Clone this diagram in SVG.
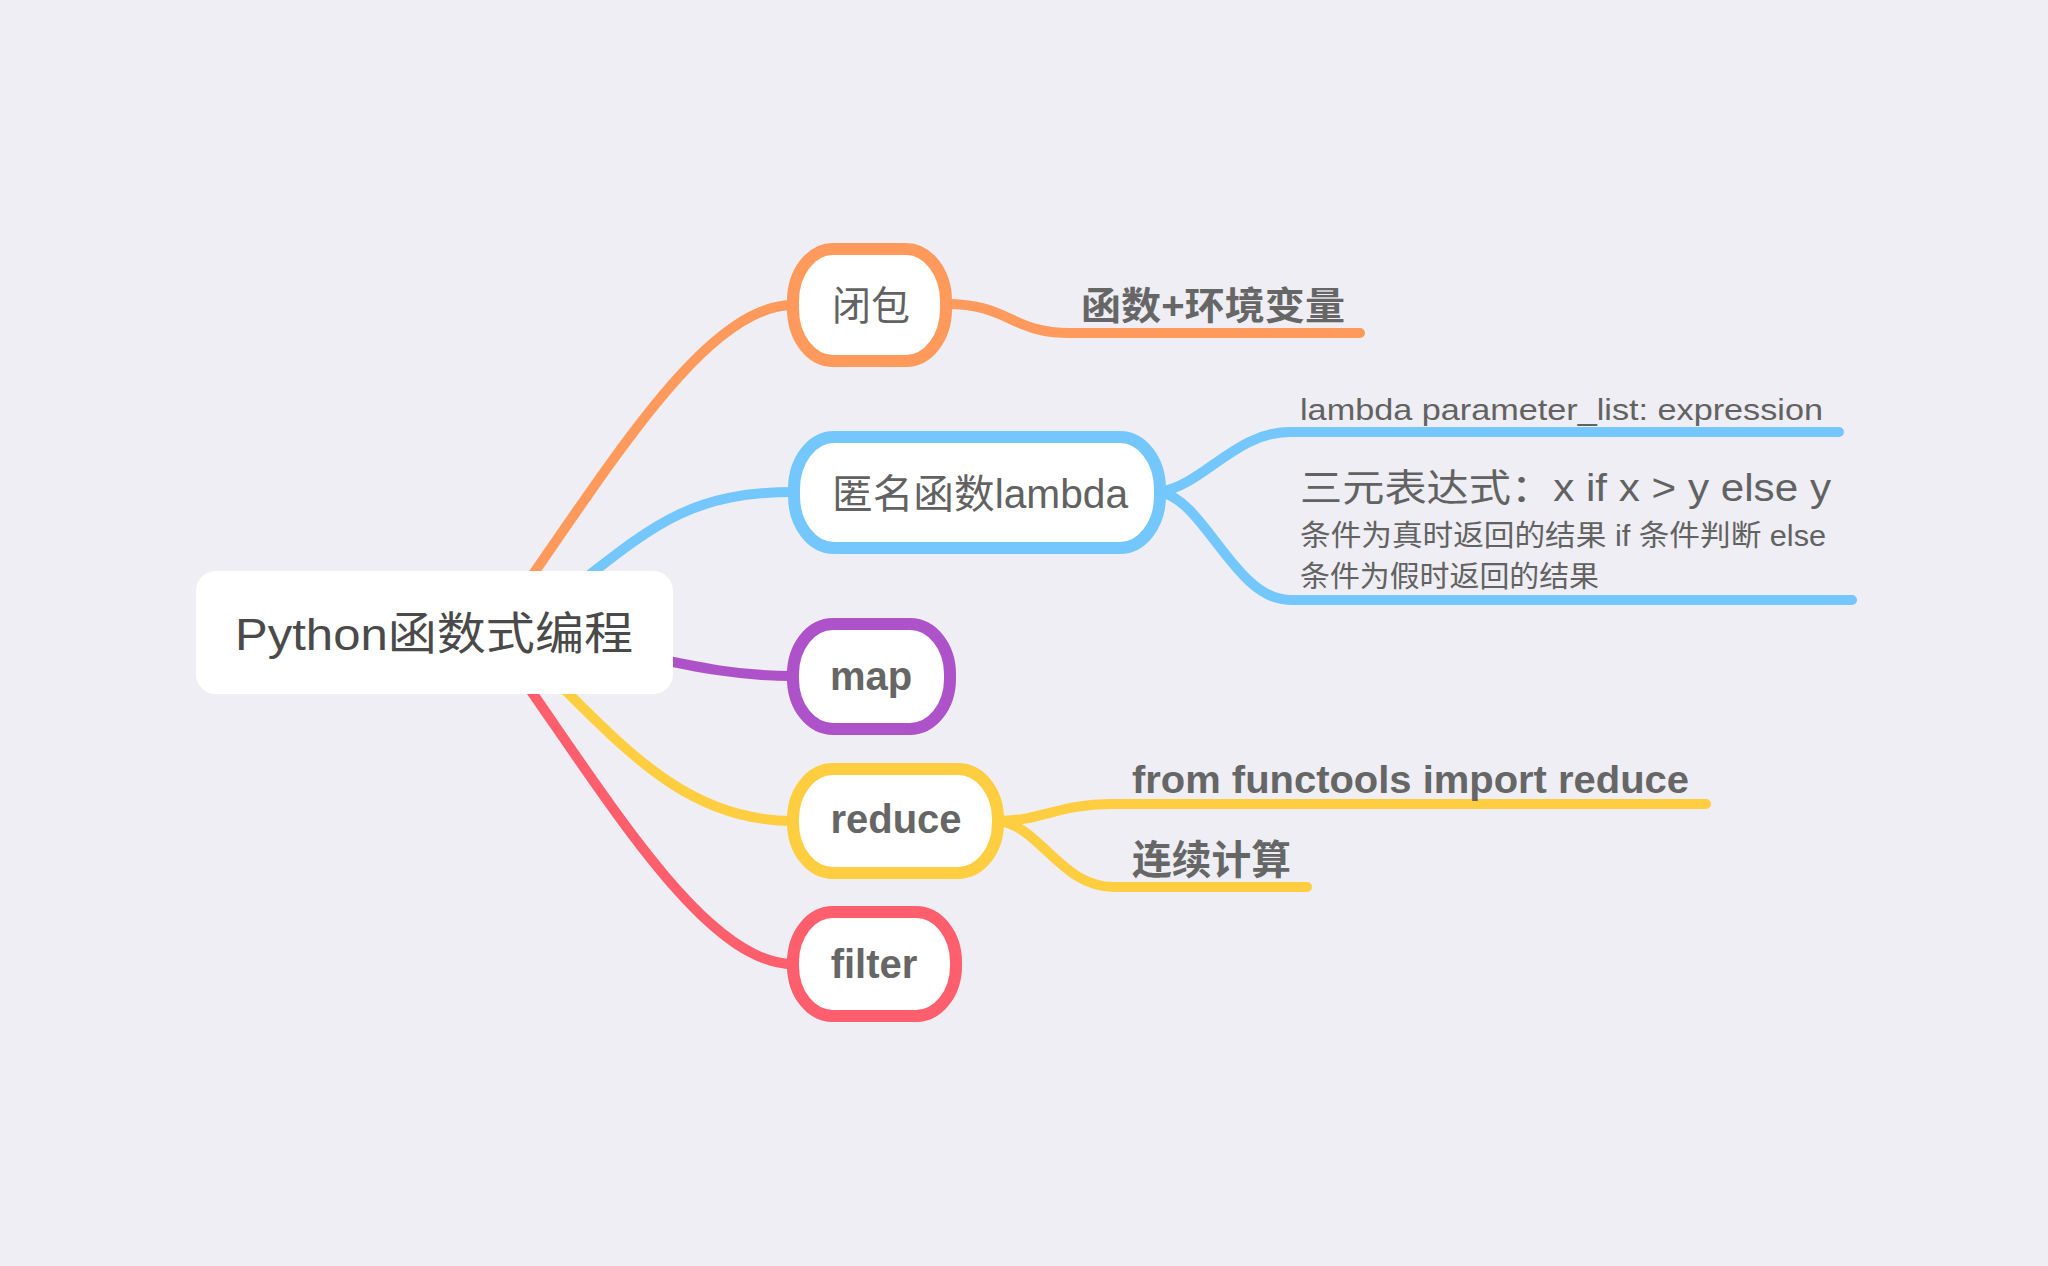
<svg xmlns="http://www.w3.org/2000/svg" width="2048" height="1266" viewBox="0 0 2048 1266">
<style>
  .bg { fill: #EEEEF4; }
  .ln { fill: none; stroke-width: 10; stroke-linecap: round; stroke-linejoin: round; }
  .node { fill: #FFFFFF; stroke-width: 12; }
  .t { font-family: "Liberation Sans", "Noto Sans CJK SC", sans-serif; fill: #626262; }
  .c { text-anchor: middle; }
  .b { font-weight: bold; fill: #666666; }
  .orange { stroke: #FF9A5C; }
  .blue { stroke: #74C7FC; }
  .purple { stroke: #AD52C9; }
  .yellow { stroke: #FFCD40; }
  .red { stroke: #FF5F6C; }
</style>
<rect class="bg" x="0" y="0" width="2048" height="1266"/>
<g id="connectors">
  <path class="ln orange" d="M 515,600 C 613,461 707,305 793,305"/>
  <path class="ln blue" d="M 540,613 C 644,535 677,492 794,492"/>
  <path class="ln purple" d="M 640,655 C 700,668 740,676 793,676"/>
  <path class="ln yellow" d="M 520,646 C 614,735 677,821 793,821"/>
  <path class="ln red" d="M 515,668 C 613,807 707,964 793,964"/>
  <path class="ln orange" d="M 946,304 C 1010,304 1010,333 1070,333 L 1360,333"/>
  <path class="ln blue" d="M 1160,492 C 1205,484 1235,432 1290,432 L 1839,432"/>
  <path class="ln blue" d="M 1160,492 C 1205,500 1235,600 1290,600 L 1852,600"/>
  <path class="ln yellow" d="M 998,821 C 1040,821 1060,804 1110,804 L 1706,804"/>
  <path class="ln yellow" d="M 998,821 C 1040,825 1060,887 1114,887 L 1307,887"/>
</g>
<g id="root">
  <rect x="196" y="571" width="477" height="123" rx="20" ry="20" fill="#FFFFFF"/>
  <text class="t" x="235" y="650" font-size="45" style="fill:#4A4A4A" textLength="398" lengthAdjust="spacingAndGlyphs">Python函数式编程</text>
</g>
<g id="node-closure">
  <rect class="node orange" x="793" y="249" width="153" height="112" rx="40" ry="52"/>
  <text class="t" x="832" y="320" font-size="40" textLength="78" lengthAdjust="spacingAndGlyphs">闭包</text>
</g>
<g id="node-lambda">
  <rect class="node blue" x="794" y="437" width="366" height="111" rx="40" ry="52"/>
  <text class="t" x="832" y="508" font-size="40" textLength="296" lengthAdjust="spacingAndGlyphs">匿名函数lambda</text>
</g>
<g id="node-map">
  <rect class="node purple" x="793" y="624" width="157" height="105" rx="40" ry="50"/>
  <text class="t c b" x="871" y="690" font-size="40">map</text>
</g>
<g id="node-reduce">
  <rect class="node yellow" x="793" y="769" width="205" height="104" rx="40" ry="50"/>
  <text class="t c b" x="896" y="833" font-size="40">reduce</text>
</g>
<g id="node-filter">
  <rect class="node red" x="793" y="912" width="163" height="104" rx="40" ry="50"/>
  <text class="t c b" x="874" y="978" font-size="40">filter</text>
</g>
<g id="leaf-closure-def">
  <text class="t b" x="1081" y="319" font-size="38" textLength="264" lengthAdjust="spacingAndGlyphs">函数+环境变量</text>
</g>
<g id="leaf-lambda-syntax">
  <text class="t" x="1300" y="420" font-size="30" textLength="523" lengthAdjust="spacingAndGlyphs">lambda parameter_list: expression</text>
</g>
<g id="leaf-ternary">
  <text class="t" x="1300" y="501" font-size="38" textLength="531" lengthAdjust="spacingAndGlyphs">三元表达式：x if x &gt; y else y</text>
  <text class="t" x="1300" y="546" font-size="29" textLength="526" lengthAdjust="spacingAndGlyphs">条件为真时返回的结果 if 条件判断 else</text>
  <text class="t" x="1300" y="587" font-size="29" textLength="299" lengthAdjust="spacingAndGlyphs">条件为假时返回的结果</text>
</g>
<g id="leaf-reduce-import">
  <text class="t b" x="1132" y="793" font-size="38" textLength="557" lengthAdjust="spacingAndGlyphs">from functools import reduce</text>
</g>
<g id="leaf-reduce-desc">
  <text class="t b" x="1132" y="874" font-size="40" textLength="159" lengthAdjust="spacingAndGlyphs">连续计算</text>
</g>
</svg>
